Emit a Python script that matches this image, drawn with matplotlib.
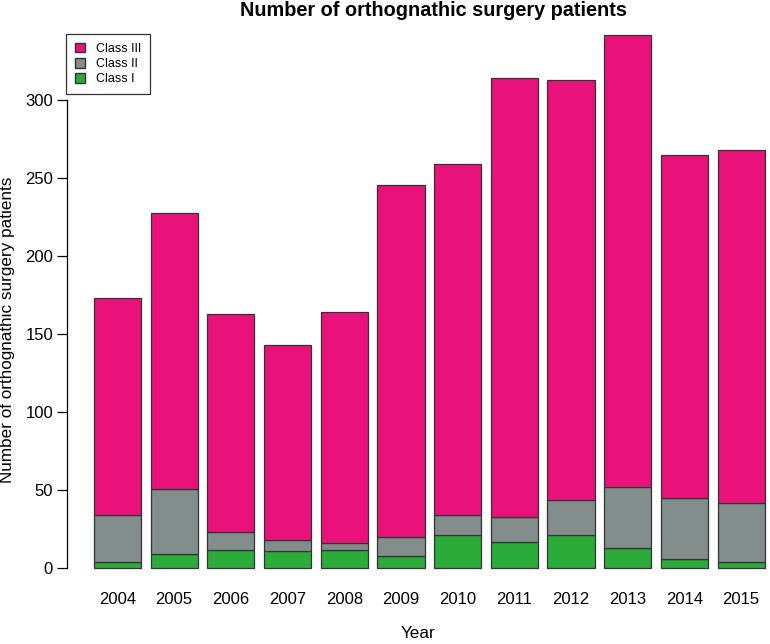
import numpy as np
import matplotlib
matplotlib.use("Agg")
import matplotlib.pyplot as plt
from matplotlib.patches import Patch

plt.rcParams['font.family'] = ['Liberation Sans', 'DejaVu Sans']

# counts per year
years = ["2004", "2005", "2006", "2007", "2008", "2009",
         "2010", "2011", "2012", "2013", "2014", "2015"]
class_1 = [4, 9, 12, 11, 12, 8, 21, 17, 21, 13, 6, 4]
class_2 = [30, 42, 11, 7, 4, 12, 13, 16, 23, 39, 39, 38]
class_3 = [139, 177, 140, 125, 148, 226, 225, 281, 269, 290, 220, 226]

col_1 = "#2BAB3A"
col_2 = "#838D8B"
col_3 = "#E8127A"

fig = plt.figure(figsize=(7.7, 6.44), dpi=100)
# R-style plot region: axis at x=67px, bottom of region ~589px
ax = fig.add_axes([67/770, 54.4/644, (770-67)/770, 576.2/644])

x = 0.7 + 1.2*np.arange(len(years))  # barplot space=0.2, width=1
c1 = np.array(class_1)
c2 = np.array(class_2)
c3 = np.array(class_3)

kw = dict(width=1.0, edgecolor="#333333", linewidth=0.9)
ax.bar(x, c1, color=col_1, **kw)
ax.bar(x, c2, bottom=c1, color=col_2, **kw)
ax.bar(x, c3, bottom=c1+c2, color=col_3, **kw)

tot_max = (c1+c2+c3).max()
ax.set_xlim(-0.368, -0.368 + (770-67)/47.25)
ax.set_ylim(-0.04*tot_max, 1.04*tot_max)

for s in ["top", "right", "bottom"]:
    ax.spines[s].set_visible(False)
ax.spines["left"].set_bounds(0, 300)
ax.spines["left"].set_linewidth(0.9)
ax.set_yticks([0, 50, 100, 150, 200, 250, 300])
ax.tick_params(axis="y", length=7, width=0.9, labelsize=12, pad=3)
ax.set_xticks(x)
ax.set_xticklabels(years)
ax.tick_params(axis="x", length=0, labelsize=12, pad=2)

fig.text(418/770, 1-633/644, "Year", ha="center", va="center", fontsize=12.3)
fig.text(8/770, 1-330/644, "Number of orthognathic surgery patients",
         rotation=90, ha="center", va="center", fontsize=12.3)
fig.text(433/770, 1-11/644, "Number of orthognathic surgery patients",
         ha="center", va="center", fontsize=14.3, fontweight="bold")

handles = [Patch(facecolor=col_3, edgecolor="#333333", label="Class III"),
           Patch(facecolor=col_2, edgecolor="#333333", label="Class II"),
           Patch(facecolor=col_1, edgecolor="#333333", label="Class I")]
leg = ax.legend(handles=handles, loc="upper left",
                bbox_to_anchor=(66/770, 1-34/644), bbox_transform=fig.transFigure,
                borderaxespad=0, fancybox=False, frameon=True, fontsize=9,
                handlelength=0.8, handleheight=0.8, handletextpad=0.9,
                labelspacing=0.25, borderpad=0.7)
leg.get_frame().set_edgecolor("black")
leg.get_frame().set_linewidth(0.9)

fig.savefig("out.png", dpi=100)
